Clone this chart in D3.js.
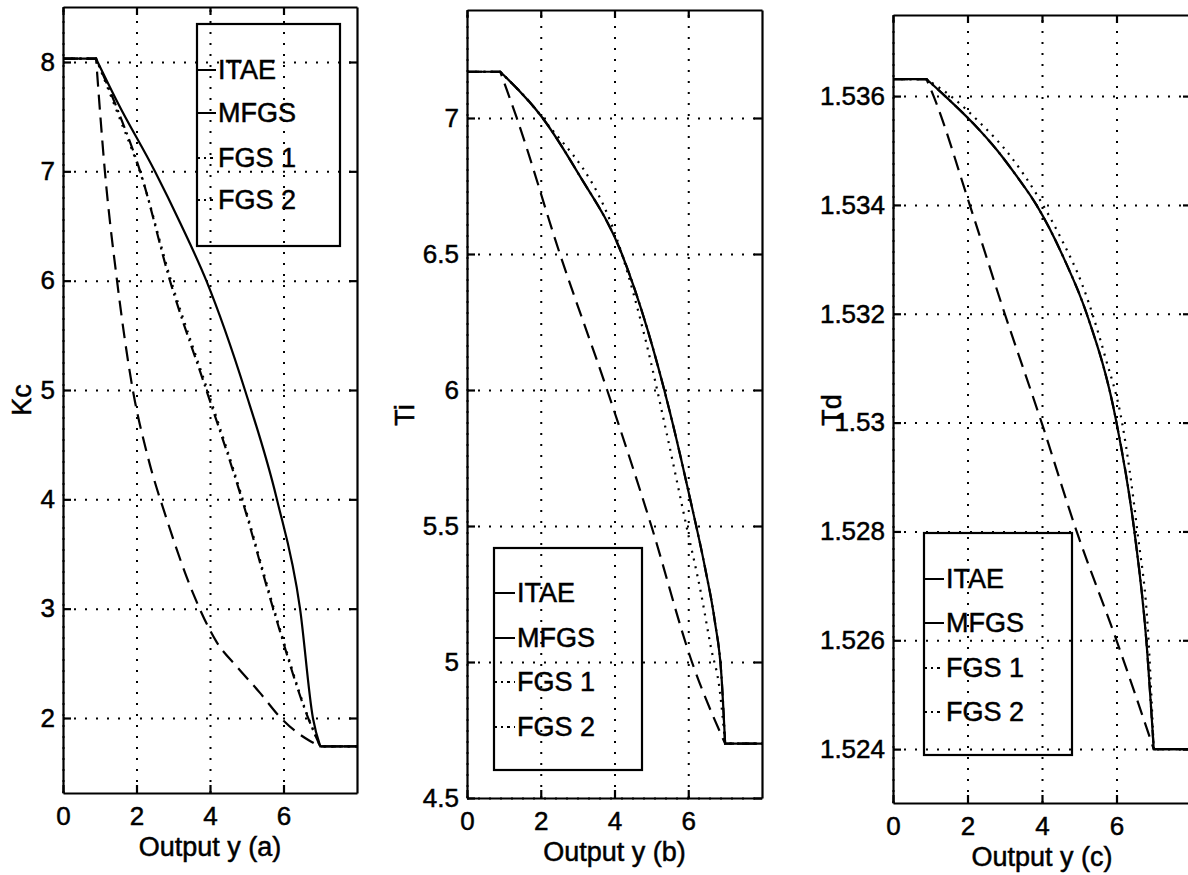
<!DOCTYPE html>
<html>
<head>
<meta charset="utf-8">
<script src="https://cdn.jsdelivr.net/npm/d3@7"></script>
<style>
  body { margin: 0; background: #fff; }
  svg { display: block; font-family: "Liberation Sans", Arial, sans-serif; }
  text { fill: #000; stroke: #000; stroke-width: 0.5px; }
</style>
</head>
<body>
<div id="chart"></div>
<script>
const w = 1188, h = 875;

// tick values
const xTicks = [0, 2, 4, 6];
const kcTicks = [2, 3, 4, 5, 6, 7, 8];
const tiTicks = [4.5, 5, 5.5, 6, 6.5, 7];
const tdTicks = [1.524, 1.526, 1.528, 1.53, 1.532, 1.534, 1.536];

const names = ["ITAE", "MFGS", "FGS 1", "FGS 2"];
const xLabels = ["Output y (a)", "Output y (b)", "Output y (c)"];
const yLabels = ["Kc", "Ti", "Td"];

// (a) Kc vs output y
const kcITAE = [[0, 8.03], [0.9, 8.03], [1.5, 7.62], [2.5, 7.0], [3.2, 6.52], [3.9, 6.0], [4.95, 5.0], [5.82, 4.0], [6.45, 3.0], [6.8, 2.0], [7.0, 1.74], [8, 1.74]];
const kcMFGS = [[0, 8.03], [0.9, 8.03], [1.5, 7.55], [2.1, 7.0], [2.91, 6.0], [3.9, 5.0], [4.87, 4.0], [5.72, 3.0], [6.67, 2.0], [7.0, 1.74], [8, 1.74]];
const kcFGS1 = [[0, 8.03], [0.9, 8.03], [1.5, 7.52], [2.12, 6.97], [2.94, 6.0], [3.93, 5.0], [4.89, 4.0], [5.74, 3.0], [6.68, 2.0], [7.0, 1.74], [8, 1.74]];
const kcFGS2 = [[0, 8.03], [0.9, 8.03], [1.14, 7.0], [1.47, 6.0], [1.9, 5.0], [2.3, 4.4], [2.83, 3.81], [3.54, 3.14], [4.19, 2.69], [4.73, 2.47], [5.36, 2.23], [5.9, 2.01], [6.4, 1.86], [6.72, 1.79], [7.0, 1.74], [8, 1.74]];

// (b) Ti vs output y
const tiITAE = [[0, 7.17], [0.9, 7.17], [2.05, 7.0], [3.0, 6.8], [4.2, 6.5], [4.9, 6.22], [5.5, 5.92], [6.05, 5.6], [6.45, 5.35], [6.72, 5.15], [6.9, 4.95], [7.0, 4.7], [8, 4.7]];
const tiMFGS = [[0, 7.17], [0.9, 7.17], [2.05, 7.0], [3.0, 6.8], [4.2, 6.5], [4.9, 6.22], [5.5, 5.92], [6.05, 5.6], [6.45, 5.35], [6.72, 5.15], [6.9, 4.95], [7.0, 4.7], [8, 4.7]];
const tiFGS1 = [[0, 7.17], [0.9, 7.17], [2.05, 7.0], [4.2, 6.5], [4.85, 6.18], [5.4, 5.85], [5.95, 5.5], [6.35, 5.25], [6.62, 5.05], [6.85, 4.9], [7.0, 4.7], [8, 4.7]];
const tiFGS2 = [[0, 7.17], [0.9, 7.17], [1.35, 7.0], [2.52, 6.5], [3.8, 6.0], [5.0, 5.5], [6.1, 5.0], [7.0, 4.7], [8, 4.7]];

// (c) Td vs output y
const tdITAE = [[0, 1.53631], [0.9, 1.53631], [1.4, 1.536], [2.15, 1.5355], [2.8, 1.535], [3.35, 1.5345], [3.85, 1.534], [4.6, 1.533], [5.2, 1.532], [6.0, 1.53], [6.48, 1.528], [6.8, 1.526], [7.0, 1.524], [8, 1.524]];
const tdMFGS = [[0, 1.53631], [0.9, 1.53631], [1.4, 1.536], [2.15, 1.5355], [2.8, 1.535], [3.35, 1.5345], [3.85, 1.534], [4.6, 1.533], [5.2, 1.532], [6.0, 1.53], [6.48, 1.528], [6.8, 1.526], [7.0, 1.524], [8, 1.524]];
const tdFGS1 = [[0, 1.53631], [0.9, 1.53631], [1.55, 1.536], [2.35, 1.5355], [3.15, 1.5349], [3.85, 1.5342], [4.5, 1.5334], [5.1, 1.5325], [5.7, 1.5312], [6.15, 1.53], [6.56, 1.528], [6.86, 1.526], [7.0, 1.524], [8, 1.524]];
const tdFGS2 = [[0, 1.53631], [0.9, 1.53631], [1.09, 1.536], [2.06, 1.534], [3.0, 1.532], [3.99, 1.53], [4.93, 1.528], [6.0, 1.526], [7.0, 1.524], [8, 1.524]];

const dashes = [null, "12,5,2,5", "2,6", "15,8"];
const legendDashes = [null, null, "3,4,2,4", "3,4,2,4"];

const panels = [
  { x0: 63, x1: 357, y0: 7, y1: 793, ydom: [1.314, 8.503], yticks: kcTicks,
    series: [kcITAE, kcMFGS, kcFGS1, kcFGS2],
    leg: { x: 197, y: 24, w: 143, h: 222, rows: [70, 113, 158, 200], tx: 218 },
    ylab: [22, 400], xlabY: 847 },
  { x0: 467, x1: 762, y0: 10, y1: 798, ydom: [4.5, 7.397], yticks: tiTicks,
    series: [tiITAE, tiMFGS, tiFGS1, tiFGS2],
    leg: { x: 494, y: 548, w: 148, h: 222, rows: [593, 638, 682, 727], tx: 517 },
    ylab: [405, 415], xlabY: 852 },
  { x0: 893, x1: 1191, y0: 15, y1: 803, ydom: [1.52301, 1.53749], yticks: tdTicks,
    series: [tdITAE, tdMFGS, tdFGS1, tdFGS2],
    leg: { x: 924, y: 533, w: 148, h: 222, rows: [579, 623, 668, 712], tx: 946 },
    ylab: [832, 410], xlabY: 857 }
];

const svg = d3.select("#chart").append("svg")
  .attr("width", w).attr("height", h);

const fmt = d3.format("~g");

panels.forEach((p, i) => {
  const x = d3.scaleLinear([0, 8], [p.x0, p.x1]);
  const y = d3.scaleLinear(p.ydom, [p.y1, p.y0]);
  const g = svg.append("g");

  // dotted grid
  g.append("g")
    .attr("transform", `translate(0,${p.y1})`)
    .call(d3.axisBottom(x).tickValues(xTicks).tickSize(-(p.y1 - p.y0)).tickFormat(""))
    .call(a => a.select(".domain").remove());
  g.append("g")
    .attr("transform", `translate(${p.x0},0)`)
    .call(d3.axisLeft(y).tickValues(p.yticks).tickSize(-(p.x1 - p.x0)).tickFormat(""))
    .call(a => a.select(".domain").remove());
  g.selectAll(".tick line")
    .attr("stroke", "#000").attr("stroke-width", 2).attr("stroke-dasharray", "2,9");

  // curves: straight flat ends, smooth middle
  const line = d3.line().x(d => x(d[0])).y(d => y(d[1])).curve(d3.curveMonotoneX);
  p.series.forEach((s, k) => {
    const a = s[0], b = s[s.length - 1];
    const d = `M${x(a[0])},${y(a[1])}` + line(s.slice(1, -1)).replace(/^M/, "L") + `L${x(b[0])},${y(b[1])}`;
    g.append("path")
      .attr("d", d)
      .attr("fill", "none")
      .attr("stroke", "#000")
      .attr("stroke-width", 2.2)
      .attr("stroke-dasharray", dashes[k]);
  });

  // axes with inward ticks
  const ax = [
    [d3.axisBottom(x).tickValues(xTicks).tickPadding(14).tickFormat(d3.format("d")), `translate(0,${p.y1})`],
    [d3.axisTop(x).tickValues(xTicks).tickFormat(""), `translate(0,${p.y0})`],
    [d3.axisLeft(y).tickValues(p.yticks).tickPadding(8).tickFormat(fmt), `translate(${p.x0},0)`],
    [d3.axisRight(y).tickValues(p.yticks).tickFormat(""), `translate(${p.x1},0)`]
  ];
  ax.forEach(([a, t]) => {
    g.append("g")
      .attr("transform", t)
      .call(a.tickSize(-8).tickSizeOuter(0))
      .attr("font-size", 26)
      .attr("font-family", "Liberation Sans, Arial, sans-serif")
      .call(s => s.selectAll("path, line").attr("stroke", "#000").attr("stroke-width", 2.2));
  });

  // axis labels
  svg.append("text")
    .attr("x", (p.x0 + Math.min(p.x1, p.x0 + 298)) / 2).attr("y", p.xlabY)
    .attr("dy", "0.35em").attr("text-anchor", "middle")
    .style("font-size", "27px").text(xLabels[i]);
  svg.append("text")
    .attr("transform", `translate(${p.ylab[0]},${p.ylab[1]}) rotate(-90)`)
    .attr("dy", "0.35em").attr("text-anchor", "middle")
    .style("font-size", "27px").text(yLabels[i]);

  // legend
  const L = p.leg;
  g.append("rect")
    .attr("x", L.x).attr("y", L.y).attr("width", L.w).attr("height", L.h)
    .attr("fill", "none").attr("stroke", "#000").attr("stroke-width", 2.2);
  names.forEach((n, k) => {
    g.append("line")
      .attr("x1", L.x).attr("x2", L.tx - 2)
      .attr("y1", L.rows[k]).attr("y2", L.rows[k])
      .attr("stroke", "#000").attr("stroke-width", 2)
      .attr("stroke-dasharray", legendDashes[k]);
    g.append("text")
      .attr("x", L.tx).attr("y", L.rows[k]).attr("dy", "0.35em")
      .style("font-size", "27px").text(n);
  });
});
</script>
</body>
</html>
